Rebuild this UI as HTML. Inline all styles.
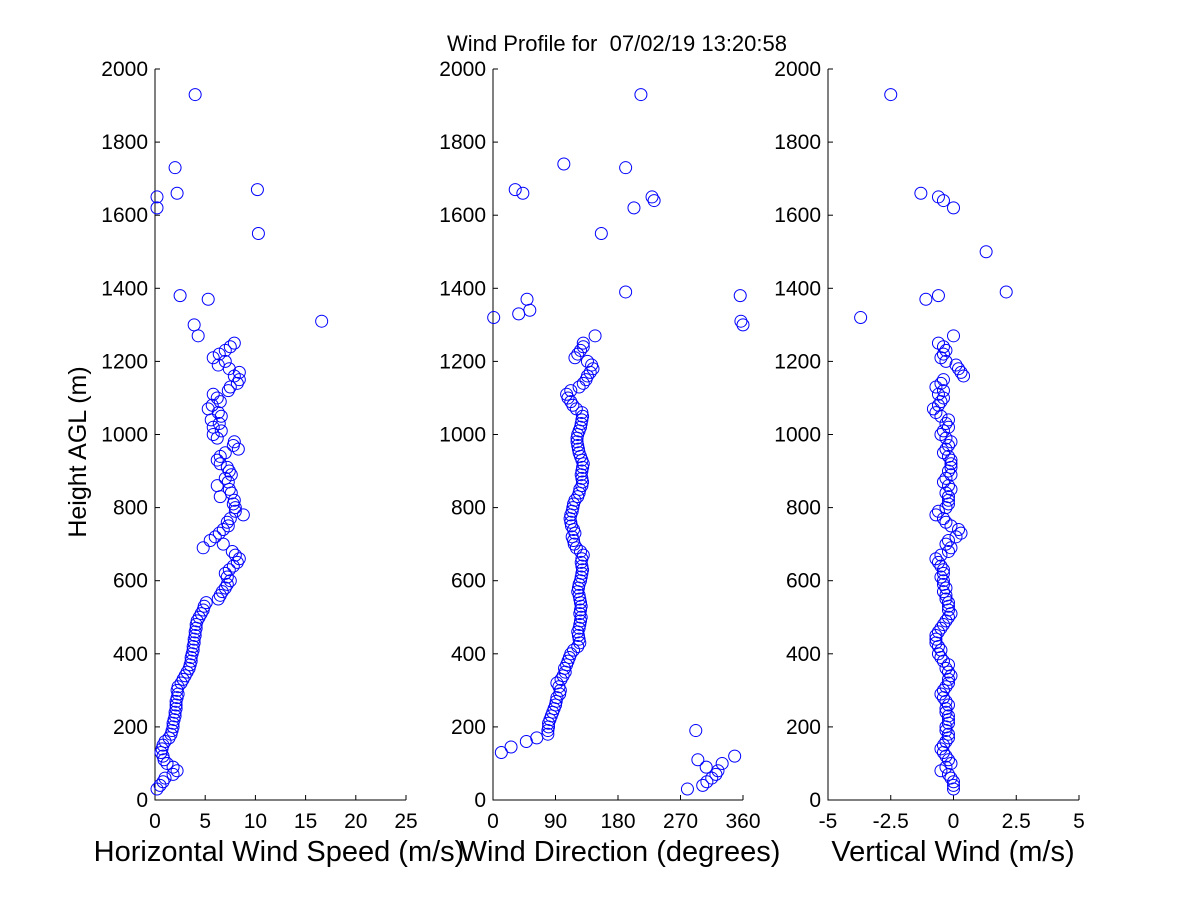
<!DOCTYPE html>
<html><head><meta charset="utf-8"><style>
body{margin:0;background:#fff}
svg{display:block;font-family:"Liberation Sans",Arial,sans-serif}
</style></head><body>
<svg id="c" width="1200" height="900"></svg>
<script>
const mainHeights=[30,40,50,60,70,80,90,100,110,120,130,140,150,160,170,180,190,200,210,220,230,240,250,260,270,280,290,300,310,320,330,340,350,360,370,380,390,400,410,420,430,440,450,460,470,480,490,500,510,520,530,540,550,560,570,580,590,600,610,620,630,640,650,660,670,680,690,700,710,720,730,740,750,760,770,780,790,800,810,820,830,840,850,860,870,880,890,900,910,920,930,940,950,960,970,980,990,1000,1010,1020,1030,1040,1050,1060,1070,1080,1090,1100,1110,1120,1130,1140,1150,1160,1170,1180,1190,1200,1210,1220,1230,1240,1250];
const speedMain=[0.2,0.5,0.8,1.0,1.8,2.2,1.8,1.2,0.9,0.8,
0.6,0.7,0.8,1.0,1.4,1.6,1.7,1.8,1.8,1.9,
2.0,2.0,2.1,2.1,2.1,2.2,2.3,2.2,2.3,2.6,
2.8,3.0,3.2,3.4,3.5,3.6,3.6,3.7,3.8,3.8,
3.9,3.9,4.0,4.0,4.1,4.1,4.2,4.4,4.6,4.8,
4.9,5.1,6.3,6.5,6.7,7.0,7.2,7.5,7.2,7.0,
7.4,7.8,8.2,8.4,8.0,7.7,4.8,6.8,5.5,6.0,
6.4,6.8,7.3,7.2,7.5,8.8,8.0,8.0,7.8,7.9,
6.5,7.6,7.4,6.2,7.3,7.0,7.6,7.4,7.2,6.5,
6.2,6.5,7.0,8.3,7.8,7.9,6.2,5.8,6.6,5.8,
6.4,5.6,6.6,6.3,5.3,5.7,6.5,6.2,5.8,7.3,
7.5,8.2,8.4,7.9,8.4,7.4,6.3,7.0,5.8,6.4,
7.0,7.5,7.9];
const speedUpperHeights=[1270,1300,1310,1370,1380,1550,1620,1650,1660,1670,1730,1930];
const speedUpper=[4.3,3.9,16.6,5.3,2.5,10.3,0.2,0.2,2.2,10.2,2.0,4.0];
const dirMainHeights=mainHeights.slice(15);
const dirMain=[79,79,80,80,82,84,86,88,90,91,
92,96,97,95,92,98,101,104,103,106,
108,110,112,116,122,125,124,123,122,124,
125,126,127,125,126,127,126,125,124,122,
123,124,126,127,128,129,128,127,128,130,
126,120,117,116,114,118,116,113,112,111,
112,114,115,116,118,122,124,125,128,129,
128,127,128,129,130,128,126,124,123,122,
121,121,122,124,126,127,128,129,128,120,
115,112,108,106,112,124,130,134,136,140,
144,142,136,118,122,126,130,130];
const dirOtherHeights=[30,40,50,60,70,80,90,100,110,120,130,145,160,170,190,1270,1300,1310,1320,1330,1340,1370,1380,1390,1550,1620,1640,1650,1660,1670,1730,1740,1930];
const dirOther=[280,302,308,315,321,324,307,330,295,348,12,26,48,63,292,147,360,357,1,37,53,49,356,191,156,203,232,229,43,32,191,102,213];
const vertMain=[0,0,0,-0.1,-0.2,-0.5,-0.3,-0.1,-0.2,-0.3,
-0.4,-0.5,-0.4,-0.3,-0.2,-0.2,-0.3,-0.3,-0.2,-0.2,
-0.2,-0.3,-0.3,-0.2,-0.3,-0.4,-0.5,-0.4,-0.3,-0.2,
-0.2,-0.1,-0.2,-0.3,-0.2,-0.4,-0.5,-0.6,-0.5,-0.6,
-0.7,-0.7,-0.7,-0.6,-0.5,-0.4,-0.3,-0.2,-0.1,-0.2,
-0.2,-0.2,-0.3,-0.3,-0.4,-0.3,-0.4,-0.4,-0.5,-0.4,
-0.4,-0.5,-0.6,-0.7,-0.5,-0.2,-0.1,-0.3,-0.2,0.1,
0.3,0.2,-0.1,-0.3,-0.4,-0.7,-0.6,-0.3,-0.2,-0.2,
-0.2,-0.3,-0.1,-0.2,-0.4,-0.3,-0.1,-0.2,-0.1,-0.1,
-0.1,-0.2,-0.4,-0.3,-0.2,-0.1,-0.3,-0.5,-0.4,-0.2,
-0.3,-0.2,-0.5,-0.7,-0.8,-0.6,-0.5,-0.4,-0.6,-0.4,
-0.7,-0.5,-0.4,0.4,0.3,0.2,0.1,-0.3,-0.5,-0.4,
-0.3,-0.4,-0.6];
const vertUpperHeights=[1270,1320,1370,1380,1390,1500,1620,1640,1650,1660,1930];
const vertUpper=[0,-3.7,-1.1,-0.6,2.1,1.3,0,-0.4,-0.6,-1.3,-2.5];
const yTicks=[0,200,400,600,800,1000,1200,1400,1600,1800,2000];
const speedTicks=[0,5,10,15,20,25];
const dirTicks=[0,90,180,270,360];
const vertTicks=[-5,-2.5,0,2.5,5];
const vertTickLabels=["-5","-2.5","0","2.5","5"];

const svg=document.getElementById('c');
const NS='http://www.w3.org/2000/svg';
function mk(tag,attrs,parent){const e=document.createElementNS(NS,tag);for(const k in attrs)e.setAttribute(k,attrs[k]);(parent||svg).appendChild(e);return e;}
const Y0=800,Y1=69;
const yScale=h=>Y0+(Y1-Y0)*h/2000;

const panels=[
 {name:'speed',x0:155,x1:406,min:0,max:25,ticks:speedTicks,labels:speedTicks.map(String),label:'Horizontal Wind Speed (m/s)',lx:279,
  series:[[mainHeights,speedMain],[speedUpperHeights,speedUpper]]},
 {name:'direction',x0:493,x1:743,min:0,max:360,ticks:dirTicks,labels:dirTicks.map(String),label:'Wind Direction (degrees)',lx:620,
  series:[[dirMainHeights,dirMain],[dirOtherHeights,dirOther]]},
 {name:'vertical',x0:828,x1:1079,min:-5,max:5,ticks:vertTicks,labels:vertTickLabels,label:'Vertical Wind (m/s)',lx:953,
  series:[[mainHeights,vertMain],[vertUpperHeights,vertUpper]]}
];
panels.forEach(p=>{
 const g=mk('g',{});
 
 
 const xs=v=>p.x0+(p.x1-p.x0)*(v-p.min)/(p.max-p.min);
 const ax=mk('path',{d:`M${p.x0} ${Y1}V${Y0}H${p.x1}`,stroke:'#000','stroke-width':1,fill:'none'},g);
 
 
 yTicks.forEach(t=>{
  const y=yScale(t);
  mk('line',{x1:p.x0,x2:p.x0+5,y1:y,y2:y,stroke:'#000'},g);
  const tx=mk('text',{x:p.x0-7,y:y+7,'text-anchor':'end','font-size':21},g);
  tx.textContent=t;
  
  
 });
 p.ticks.forEach((t,i)=>{
  const x=xs(t);
  mk('line',{x1:x,x2:x,y1:Y0,y2:Y0-5,stroke:'#000'},g);
  const tx=mk('text',{x:x,y:828,'text-anchor':'middle','font-size':21},g);
  tx.textContent=p.labels[i];
  
  
 });
 p.series.forEach(([hs,vs])=>{
  hs.forEach((h,i)=>{
   const c=mk('circle',{cx:xs(vs[i]),cy:yScale(h),r:6,fill:'none',stroke:'#0000ff','stroke-width':1},g);
   
   
  });
 });
 const lb=mk('text',{x:p.lx,y:861,'text-anchor':'middle','font-size':29},g);
 lb.textContent=p.label;
 
 
});
const yl=mk('text',{x:0,y:0,'text-anchor':'middle','font-size':25,transform:'translate(86,452) rotate(-90)'});
yl.textContent='Height AGL (m)';


const tt=mk('text',{x:617,y:51,'text-anchor':'middle','font-size':22,'xml:space':'preserve'});
tt.textContent='Wind Profile for\u00a0 07/02/19 13:20:58';


</script>
</body></html>
